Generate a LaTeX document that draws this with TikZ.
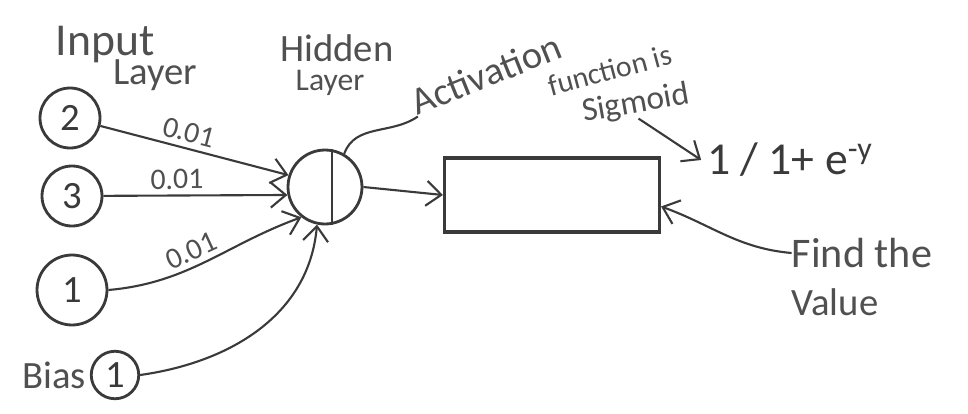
\documentclass[tikz,border=0pt]{standalone}
\usepackage{fontspec}
\setmainfont{Carlito}
\usepackage{tikz}
\usetikzlibrary{positioning, arrows.meta}
\definecolor{ink}{HTML}{3A3A3A}
\definecolor{pencil}{HTML}{505050}
\tikzset{
  every node/.style={text=ink},
}

\begin{document}
\begin{tikzpicture}[
    x=0.02cm, y=-0.02cm,
    unit/.style={circle, draw=ink, line width=1.6pt, inner sep=0pt, font=\fontsize{22}{24}\selectfont},
    hand/.style={font=\fontsize{22}{24}\selectfont, text=pencil, inner sep=0pt},
    weight/.style={font=\fontsize{17}{18}\selectfont, text=pencil, above, sloped, inner sep=3pt},
    wire/.style={draw=ink, line width=1.2pt, -{Straight Barb[length=3mm, width=5mm]}},
    note/.style={draw=ink, line width=1.2pt}
]
  \useasboundingbox (0,0) rectangle (968,413);

  % input layer
  \node[unit, minimum size=1.2cm] (in2) at (70,118) {2};
  \node[unit, minimum size=1.2cm] (in3) at (72,196) {3};
  \node[unit, minimum size=1.4cm] (in1) at (72,290) {1};
  \node[unit, minimum size=0.95cm] (bias) at (115,375) {1};
  \node[hand, left=2pt of bias] (biaslbl) {Bias};
  \node[hand, font=\fontsize{26}{28}\selectfont] (intitle) at (105,45) {Input};
  \node[hand] (inlayer) at (155,75) {Layer};

  % hidden layer
  \node[unit, minimum size=1.48cm] (hid) at (325,187) {};
  \draw[note] (hid.80) -- (hid.-80);
  \node[hand] (hidtitle) at (337,48) {Hidden};
  \node[hand, font=\fontsize{18}{20}\selectfont] (hidlayer) at (330,83) {Layer};

  % output
  \node[draw=ink, line width=1.8pt, minimum width=4.3cm, minimum height=1.48cm] (out) at (552,195) {};

  % weights
  \draw[wire] (in2) -- node[weight, pos=0.45] {0.01} (hid.162);
  \draw[wire] (in3) -- node[weight, pos=0.4] {0.01} (hid.192);
  \draw[wire] (in1.east) to[out=5, in=200] node[weight, pos=0.45] {0.01} (hid.232);
  \draw[wire] (bias.east) to[out=8, in=265] (hid.258);
  \draw[wire] (hid.east) -- (out.west);

  % activation notes
  \node[hand, rotate=22] (act1) at (486,74) {Activation};
  \node[hand, rotate=15, font=\fontsize{17}{18}\selectfont] (act2) at (610,70) {function is};
  \node[hand, rotate=10, font=\fontsize{19}{20}\selectfont] (act3) at (636,104) {Sigmoid};
  \draw[note] (hid.60) to[out=70, in=215] (act1.south west);
  \node[font=\fontsize{26}{28}\selectfont] (sig) at (790,160) {1 / 1+ e\textsuperscript{-y}};
  \draw[wire] (act3.south) -- (sig.west);

  \node[hand, font=\fontsize{24}{26}\selectfont] (find) at (862,253) {Find the};
  \node[hand] (findval) at (835,302) {Value};
  \draw[wire] (find.west) to[out=175, in=-20] (out.-6);
\end{tikzpicture}
\end{document}
